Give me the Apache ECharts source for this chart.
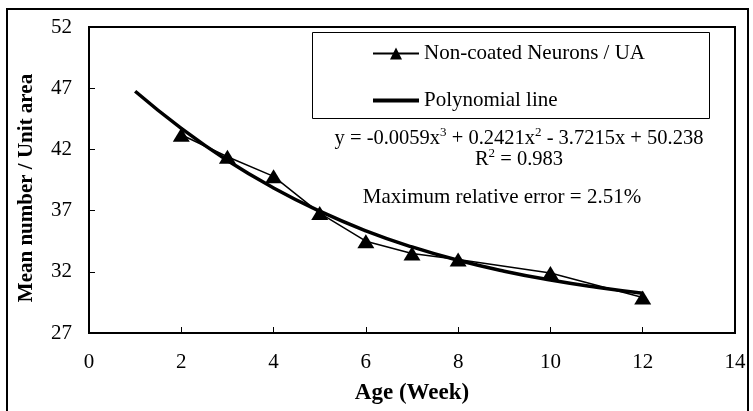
<!DOCTYPE html>
<html>
<head>
<meta charset="utf-8">
<script src="https://cdn.jsdelivr.net/npm/echarts@6/dist/echarts.min.js"></script>
<style>
html,body{margin:0;padding:0;background:#fff;}
#chart{width:753px;height:411px;}
</style>
</head>
<body>
<div id="chart"></div>
<script>
// Data
var ages = [2, 3, 4, 5, 6, 7, 8, 10, 12];
var neurons = [43.2, 41.4, 39.8, 36.8, 34.5, 33.5, 33.0, 31.9, 29.9];
var fitAges = [1, 2, 3, 4, 5, 6, 7, 8, 9, 10, 11, 12];
var fitValues = [46.75, 43.72, 41.09, 38.85, 36.95, 35.35, 34.03, 32.94, 32.05, 31.33, 30.74, 30.25];
var xTicks = [0, 2, 4, 6, 8, 10, 12, 14];
var yTicks = [27, 32, 37, 42, 47, 52];
var seriesNames = ['Non-coated Neurons / UA', 'Polynomial line'];

var FONT = '"Liberation Serif", "Times New Roman", serif';

function pairs(xs, ys) { return xs.map(function (x, i) { return [x, ys[i]]; }); }

var richEq = {
  n: { fontFamily: FONT, fontSize: 20.5, color: '#000', lineHeight: 26 },
  s: { fontFamily: FONT, fontSize: 13, color: '#000', lineHeight: 13, verticalAlign: 'top' }
};

var chart = echarts.init(document.getElementById('chart'), null, { renderer: 'canvas' });
chart.setOption({
  backgroundColor: '#fff',
  animation: false,
  textStyle: { fontFamily: FONT, color: '#000' },
  grid: {
    left: 89, top: 27, right: 18, bottom: 78,
    show: true, borderColor: '#000', borderWidth: 2, backgroundColor: 'transparent'
  },
  xAxis: {
    type: 'value', min: xTicks[0], max: xTicks[xTicks.length - 1], interval: 2,
    name: 'Age (Week)', nameLocation: 'middle', nameGap: 49,
    nameTextStyle: { fontFamily: FONT, fontWeight: 'bold', fontSize: 23, color: '#000' },
    axisLine: { lineStyle: { color: '#000', width: 2 } },
    axisTick: { inside: true, length: 6, lineStyle: { color: '#000', width: 1 } },
    axisLabel: { fontFamily: FONT, fontSize: 21, color: '#000', margin: 19 },
    splitLine: { show: false }
  },
  yAxis: {
    type: 'value', min: yTicks[0], max: yTicks[yTicks.length - 1], interval: 5,
    name: 'Mean number / Unit area', nameLocation: 'middle', nameGap: 52,
    nameTextStyle: { fontFamily: FONT, fontWeight: 'bold', fontSize: 21, color: '#000', padding: [0, 16, 0, 0] },
    axisLine: { lineStyle: { color: '#000', width: 2 } },
    axisTick: { inside: true, length: 6, lineStyle: { color: '#000', width: 1 } },
    axisLabel: { fontFamily: FONT, fontSize: 21, color: '#000', margin: 17 },
    splitLine: { show: false }
  },
  legend: {
    orient: 'vertical',
    left: 367, top: 38,
    itemGap: 26,
    itemWidth: 46, itemHeight: 15,
    symbolKeepAspect: true,
    textStyle: { fontFamily: FONT, fontSize: 21, color: '#000' },
    data: [
      { name: seriesNames[0] },
      { name: seriesNames[1], icon: 'path://M0,0H46V4H0Z' }
    ]
  },
  graphic: [
    { type: 'rect', z: -10, silent: true, shape: { x: 7, y: 9, width: 741, height: 420 },
      style: { fill: 'transparent', stroke: '#000', lineWidth: 2 } },
    { type: 'rect', z: 1, silent: true, shape: { x: 312.5, y: 32.5, width: 397, height: 86 },
      style: { fill: '#fff', stroke: '#000', lineWidth: 1 } },
    { type: 'text', z: 5, silent: true, x: 519, y: 139,
      style: {
        text: '{n|y = -0.0059x}{s|3}{n| + 0.2421x}{s|2}{n| - 3.7215x + 50.238}',
        align: 'center', verticalAlign: 'middle', rich: richEq
      } },
    { type: 'text', z: 5, silent: true, x: 519, y: 160,
      style: {
        text: '{n|R}{s|2}{n| = 0.983}',
        align: 'center', verticalAlign: 'middle', rich: richEq
      } },
    { type: 'text', z: 5, silent: true, x: 502, y: 197,
      style: {
        text: 'Maximum relative error = 2.51%',
        align: 'center', verticalAlign: 'middle',
        font: '21px ' + FONT, fill: '#000'
      } }
  ],
  series: [
    {
      name: seriesNames[0], type: 'line', z: 3,
      data: pairs(ages, neurons),
      symbol: 'triangle', symbolSize: [17, 14],
      lineStyle: { color: '#000', width: 1.5 },
      itemStyle: { color: '#000', borderWidth: 0 }
    },
    {
      name: seriesNames[1], type: 'line', z: 4,
      data: pairs(fitAges, fitValues),
      smooth: true, symbol: 'none',
      lineStyle: { color: '#000', width: 3.5 },
      itemStyle: { color: '#000' }
    }
  ]
});
</script>
</body>
</html>
